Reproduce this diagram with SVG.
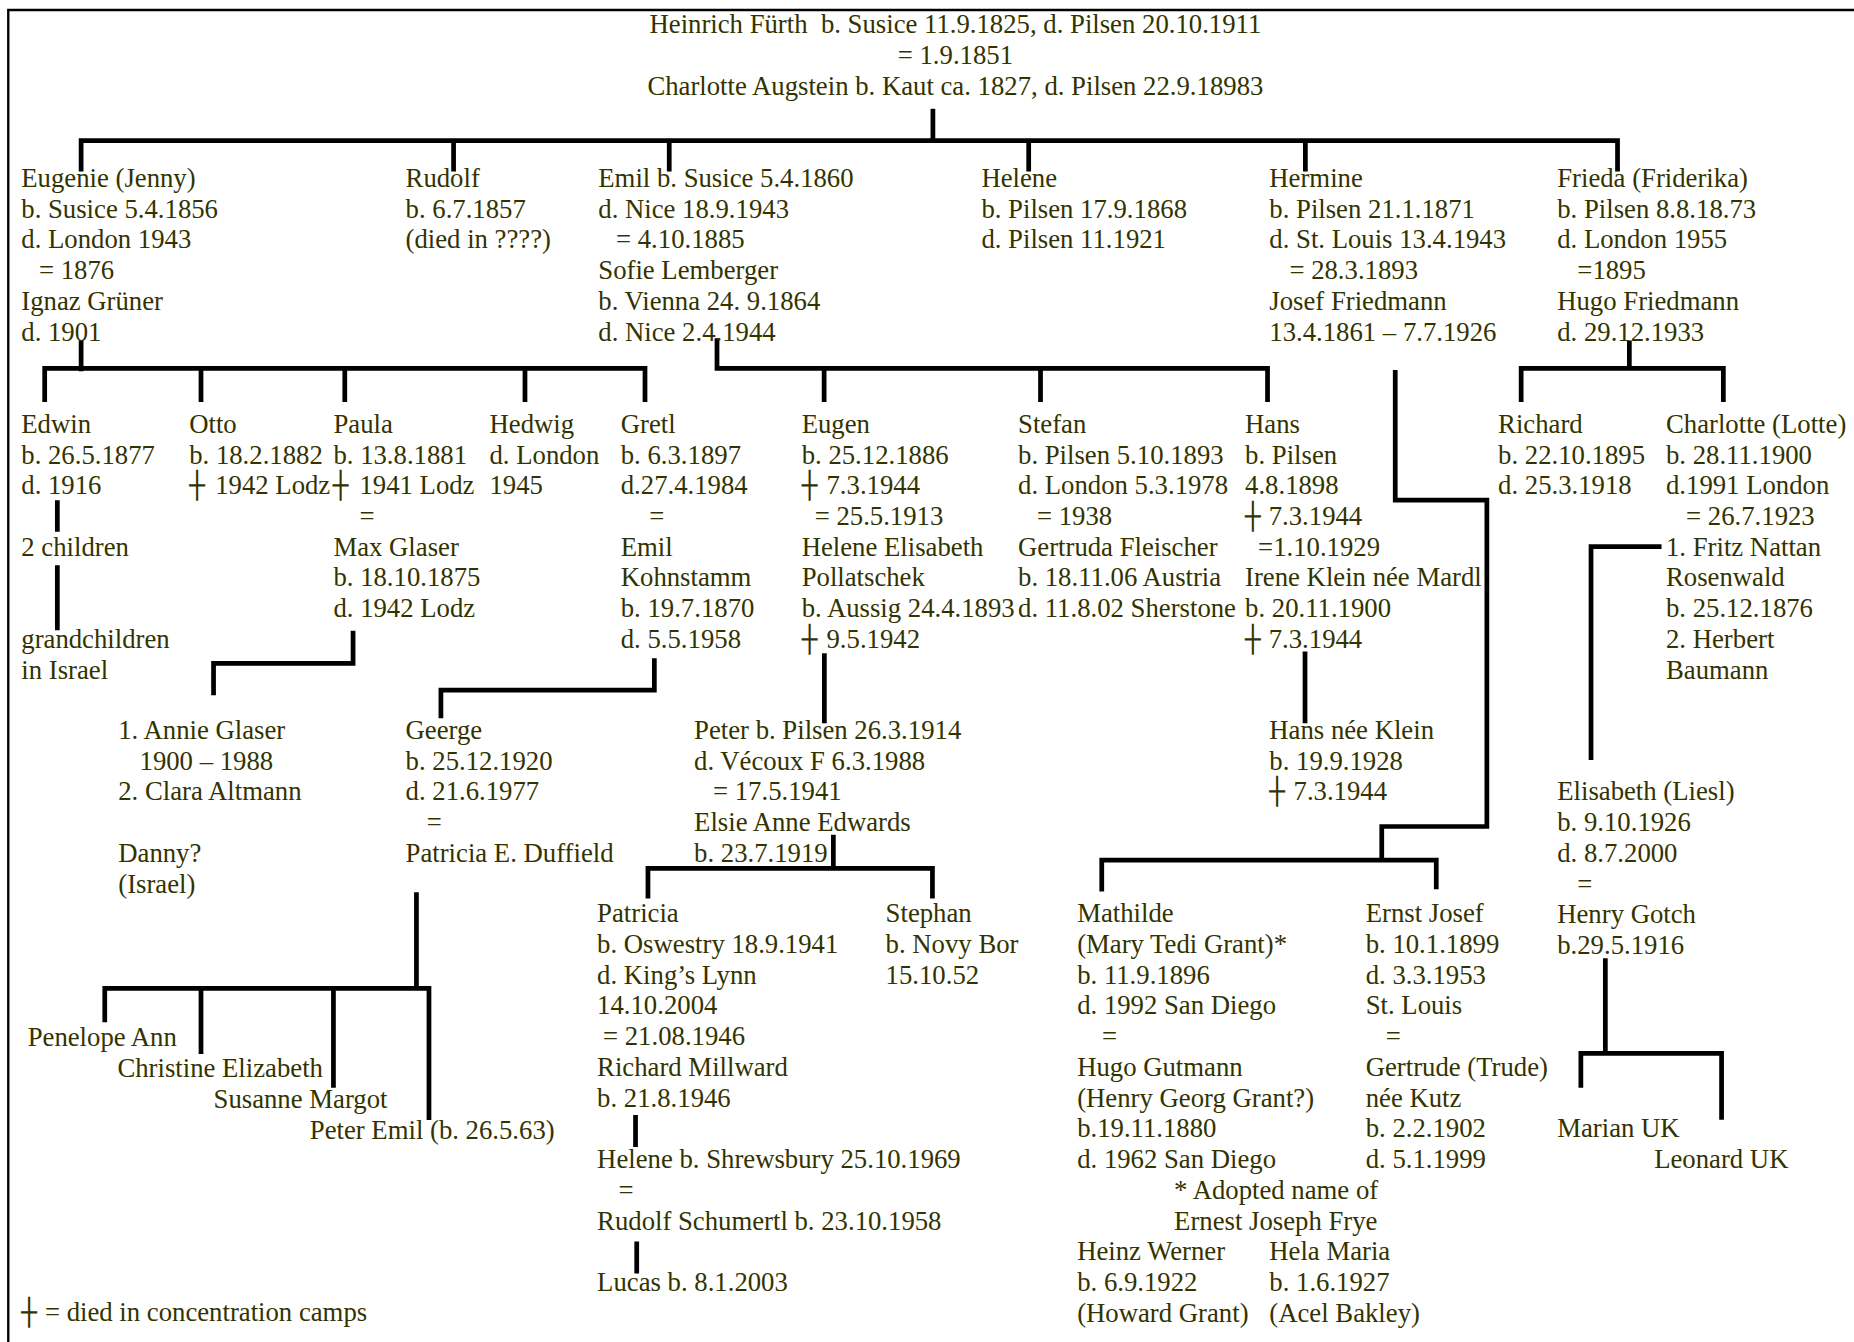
<svg xmlns="http://www.w3.org/2000/svg" width="1854" height="1342" viewBox="0 0 1854 1342">
<style>
.t{font-family:"Liberation Serif","Times New Roman",serif;font-size:22.6px;fill:#333300;}
.cr{font-family:"DejaVu Sans",sans-serif;font-size:22px;}
.c{stroke:#000;stroke-width:4;fill:none;stroke-linejoin:miter;}
.f{stroke:#000;stroke-width:2;fill:none;}
</style>
<rect width="1854" height="1342" fill="#fff"/>
<g transform="scale(1.1824)">
<path class="f" d="M7,1135 V8.5 H1568"/>
<g id="connectors">
<path class="c" d="M789,92 V119"/>
<path class="c" d="M68.6,145 V119 H1368 V145"/>
<path class="c" d="M383.6,119 V145 M566,119 V145 M870,119 V145 M1104,119 V145"/>
<path class="c" d="M68.6,288 V314"/>
<path class="c" d="M37.8,340 V311.5 H545.5 V340 M170,311.5 V340 M291.6,311.5 V340 M444,311.5 V340"/>
<path class="c" d="M606.4,286 V311.5 H1072 V340 M697,311.5 V340 M880,311.5 V340"/>
<path class="c" d="M1378,288 V311.5 M1286.5,340 V311.5 H1457.5 V340"/>
<path class="c" d="M1180,313 V423 H1257.5 V699 H1168.6 V727.4"/>
<path class="c" d="M931.8,754 V727.4 H1214.7 V752"/>
<path class="c" d="M48.5,423 V449.7 M48.5,478 V533"/>
<path class="c" d="M298.6,533.4 V561 H180.6 V588"/>
<path class="c" d="M553.4,556.8 V583.6 H372.9 V607.5"/>
<path class="c" d="M697.2,552.5 V611.7"/>
<path class="c" d="M1103.7,551 V611.7"/>
<path class="c" d="M1405.2,462.3 H1345.6 V642.8"/>
<path class="c" d="M352.2,754.7 V836 M88.6,864.6 V836 H362.8 V947.2 M170,836 V891.4 M282,836 V920"/>
<path class="c" d="M704.8,706 V734.4 M548,760 V734.4 H788.6 V760"/>
<path class="c" d="M537.5,943 V970 M538.5,1050 V1077"/>
<path class="c" d="M1357.7,810.5 V890.8 M1337,920 V890.8 H1456 V947"/>
</g>
<g id="n-heinrich">
<text class="t" text-anchor="middle" xml:space="preserve" x="808" y="28">Heinrich Fürth  b. Susice 11.9.1825, d. Pilsen 20.10.1911</text>
<text class="t" text-anchor="middle" x="808" y="54">= 1.9.1851</text>
<text class="t" text-anchor="middle" x="808" y="80">Charlotte Augstein b. Kaut ca. 1827, d. Pilsen 22.9.18983</text>
</g>
<g id="n-eugenie"><text class="t">
<tspan x="18" y="158">Eugenie (Jenny)</tspan><tspan x="18" y="184">b. Susice 5.4.1856</tspan><tspan x="18" y="210">d. London 1943</tspan><tspan x="33" y="236">= 1876</tspan><tspan x="18" y="262">Ignaz Grüner</tspan><tspan x="18" y="288">d. 1901</tspan>
</text></g>
<g id="n-rudolf"><text class="t">
<tspan x="343" y="158">Rudolf</tspan><tspan x="343" y="184">b. 6.7.1857</tspan><tspan x="343" y="210">(died in ????)</tspan>
</text></g>
<g id="n-emil"><text class="t">
<tspan x="506" y="158">Emil b. Susice 5.4.1860</tspan><tspan x="506" y="184">d. Nice 18.9.1943</tspan><tspan x="521" y="210">= 4.10.1885</tspan><tspan x="506" y="236">Sofie Lemberger</tspan><tspan x="506" y="262">b. Vienna 24. 9.1864</tspan><tspan x="506" y="288">d. Nice 2.4.1944</tspan>
</text></g>
<g id="n-helene"><text class="t">
<tspan x="830" y="158">Helene</tspan><tspan x="830" y="184">b. Pilsen 17.9.1868</tspan><tspan x="830" y="210">d. Pilsen 11.1921</tspan>
</text></g>
<g id="n-hermine"><text class="t">
<tspan x="1073.5" y="158">Hermine</tspan><tspan x="1073.5" y="184">b. Pilsen 21.1.1871</tspan><tspan x="1073.5" y="210">d. St. Louis 13.4.1943</tspan><tspan x="1090.5" y="236">= 28.3.1893</tspan><tspan x="1073.5" y="262">Josef Friedmann</tspan><tspan x="1073.5" y="288">13.4.1861 – 7.7.1926</tspan>
</text></g>
<g id="n-frieda"><text class="t">
<tspan x="1317" y="158">Frieda (Friderika)</tspan><tspan x="1317" y="184">b. Pilsen 8.8.18.73</tspan><tspan x="1317" y="210">d. London 1955</tspan><tspan x="1334" y="236">=1895</tspan><tspan x="1317" y="262">Hugo Friedmann</tspan><tspan x="1317" y="288">d. 29.12.1933</tspan>
</text></g>
<g id="n-edwin"><text class="t">
<tspan x="18" y="366">Edwin</tspan><tspan x="18" y="392">b. 26.5.1877</tspan><tspan x="18" y="418">d. 1916</tspan><tspan x="18" y="470">2 children</tspan><tspan x="18" y="548">grandchildren</tspan><tspan x="18" y="574">in Israel</tspan>
</text></g>
<g id="n-otto"><text class="t">
<tspan x="160" y="366">Otto</tspan><tspan x="160" y="392">b. 18.2.1882</tspan><tspan class="cr" x="160" y="418">┼</tspan><tspan x="182" y="418">1942 Lodz</tspan>
</text></g>
<g id="n-paula"><text class="t">
<tspan x="282" y="366">Paula</tspan><tspan x="282" y="392">b. 13.8.1881</tspan><tspan class="cr" x="281.5" y="418">┼</tspan><tspan x="304" y="418">1941 Lodz</tspan><tspan x="304" y="444">=</tspan><tspan x="282" y="470">Max Glaser</tspan><tspan x="282" y="496">b. 18.10.1875</tspan><tspan x="282" y="522">d. 1942 Lodz</tspan>
</text></g>
<g id="n-hedwig"><text class="t">
<tspan x="414" y="366">Hedwig</tspan><tspan x="414" y="392">d. London</tspan><tspan x="414" y="418">1945</tspan>
</text></g>
<g id="n-gretl"><text class="t">
<tspan x="525" y="366">Gretl</tspan><tspan x="525" y="392">b. 6.3.1897</tspan><tspan x="525" y="418">d.27.4.1984</tspan><tspan x="549" y="444">=</tspan><tspan x="525" y="470">Emil</tspan><tspan x="525" y="496">Kohnstamm</tspan><tspan x="525" y="522">b. 19.7.1870</tspan><tspan x="525" y="548">d. 5.5.1958</tspan>
</text></g>
<g id="n-eugen"><text class="t">
<tspan x="678" y="366">Eugen</tspan><tspan x="678" y="392">b. 25.12.1886</tspan><tspan class="cr" x="678" y="418">┼</tspan><tspan x="699" y="418">7.3.1944</tspan><tspan x="689" y="444">= 25.5.1913</tspan><tspan x="678" y="470">Helene Elisabeth</tspan><tspan x="678" y="496">Pollatschek</tspan><tspan x="678" y="522">b. Aussig 24.4.1893</tspan><tspan class="cr" x="678" y="548">┼</tspan><tspan x="699" y="548">9.5.1942</tspan>
</text></g>
<g id="n-stefan"><text class="t">
<tspan x="861" y="366">Stefan</tspan><tspan x="861" y="392">b. Pilsen 5.10.1893</tspan><tspan x="861" y="418">d. London 5.3.1978</tspan><tspan x="877" y="444">= 1938</tspan><tspan x="861" y="470">Gertruda Fleischer</tspan><tspan x="861" y="496">b. 18.11.06 Austria</tspan><tspan x="861" y="522">d. 11.8.02 Sherstone</tspan>
</text></g>
<g id="n-hans"><text class="t">
<tspan x="1053" y="366">Hans</tspan><tspan x="1053" y="392">b. Pilsen</tspan><tspan x="1053" y="418">4.8.1898</tspan><tspan class="cr" x="1053" y="444">┼</tspan><tspan x="1073" y="444">7.3.1944</tspan><tspan x="1064" y="470">=1.10.1929</tspan><tspan x="1053" y="496">Irene Klein née Mardl</tspan><tspan x="1053" y="522">b. 20.11.1900</tspan><tspan class="cr" x="1053" y="548">┼</tspan><tspan x="1073" y="548">7.3.1944</tspan>
</text></g>
<g id="n-richard"><text class="t">
<tspan x="1267" y="366">Richard</tspan><tspan x="1267" y="392">b. 22.10.1895</tspan><tspan x="1267" y="418">d. 25.3.1918</tspan>
</text></g>
<g id="n-lotte"><text class="t">
<tspan x="1409" y="366">Charlotte (Lotte)</tspan><tspan x="1409" y="392">b. 28.11.1900</tspan><tspan x="1409" y="418">d.1991 London</tspan><tspan x="1426" y="444">= 26.7.1923</tspan><tspan x="1409" y="470">1. Fritz Nattan</tspan><tspan x="1409" y="496">Rosenwald</tspan><tspan x="1409" y="522">b. 25.12.1876</tspan><tspan x="1409" y="548">2. Herbert</tspan><tspan x="1409" y="574">Baumann</tspan>
</text></g>
<g id="n-annie"><text class="t">
<tspan x="100" y="625">1. Annie Glaser</tspan><tspan x="118" y="651">1900 – 1988</tspan><tspan x="100" y="677">2. Clara Altmann</tspan><tspan x="100" y="729">Danny?</tspan><tspan x="100" y="755">(Israel)</tspan>
</text></g>
<g id="n-geerge"><text class="t">
<tspan x="343" y="625">Geerge</tspan><tspan x="343" y="651">b. 25.12.1920</tspan><tspan x="343" y="677">d. 21.6.1977</tspan><tspan x="361" y="703">=</tspan><tspan x="343" y="729">Patricia E. Duffield</tspan>
</text></g>
<g id="n-peter"><text class="t">
<tspan x="587" y="625">Peter b. Pilsen 26.3.1914</tspan><tspan x="587" y="651">d. Vécoux F 6.3.1988</tspan><tspan x="603" y="677">= 17.5.1941</tspan><tspan x="587" y="703">Elsie Anne Edwards</tspan><tspan x="587" y="729">b. 23.7.1919</tspan>
</text></g>
<g id="n-hansklein"><text class="t">
<tspan x="1073.5" y="625">Hans née Klein</tspan><tspan x="1073.5" y="651">b. 19.9.1928</tspan><tspan class="cr" x="1073.5" y="677">┼</tspan><tspan x="1094" y="677">7.3.1944</tspan>
</text></g>
<g id="n-liesl"><text class="t">
<tspan x="1317" y="677">Elisabeth (Liesl)</tspan><tspan x="1317" y="703">b. 9.10.1926</tspan><tspan x="1317" y="729">d. 8.7.2000</tspan><tspan x="1334" y="755">=</tspan><tspan x="1317" y="781">Henry Gotch</tspan><tspan x="1317" y="807">b.29.5.1916</tspan>
</text></g>
<g id="n-patricia"><text class="t">
<tspan x="505" y="780">Patricia</tspan><tspan x="505" y="806">b. Oswestry 18.9.1941</tspan><tspan x="505" y="832">d. King’s Lynn</tspan><tspan x="505" y="858">14.10.2004</tspan><tspan x="510" y="884">= 21.08.1946</tspan><tspan x="505" y="910">Richard Millward</tspan><tspan x="505" y="936">b. 21.8.1946</tspan>
</text></g>
<g id="n-helene2"><text class="t">
<tspan x="505" y="988">Helene b. Shrewsbury 25.10.1969</tspan><tspan x="523" y="1014">=</tspan><tspan x="505" y="1040">Rudolf Schumertl b. 23.10.1958</tspan>
</text></g>
<g id="n-lucas"><text class="t" x="505" y="1092">Lucas b. 8.1.2003</text></g>
<g id="n-stephan"><text class="t">
<tspan x="749" y="780">Stephan</tspan><tspan x="749" y="806">b. Novy Bor</tspan><tspan x="749" y="832">15.10.52</tspan>
</text></g>
<g id="n-mathilde"><text class="t">
<tspan x="911" y="780">Mathilde</tspan><tspan x="911" y="806">(Mary Tedi Grant)*</tspan><tspan x="911" y="832">b. 11.9.1896</tspan><tspan x="911" y="858">d. 1992 San Diego</tspan><tspan x="932" y="884">=</tspan><tspan x="911" y="910">Hugo Gutmann</tspan><tspan x="911" y="936">(Henry Georg Grant?)</tspan><tspan x="911" y="962">b.19.11.1880</tspan><tspan x="911" y="988">d. 1962 San Diego</tspan><tspan x="993" y="1014">* Adopted name of</tspan><tspan x="993" y="1040">Ernest Joseph Frye</tspan>
</text></g>
<g id="n-heinz"><text class="t">
<tspan x="911" y="1066">Heinz Werner</tspan><tspan x="911" y="1092">b. 6.9.1922</tspan><tspan x="911" y="1118">(Howard Grant)</tspan>
</text></g>
<g id="n-hela"><text class="t">
<tspan x="1073.5" y="1066">Hela Maria</tspan><tspan x="1073.5" y="1092">b. 1.6.1927</tspan><tspan x="1073.5" y="1118">(Acel Bakley)</tspan>
</text></g>
<g id="n-ernst"><text class="t">
<tspan x="1155" y="780">Ernst Josef</tspan><tspan x="1155" y="806">b. 10.1.1899</tspan><tspan x="1155" y="832">d. 3.3.1953</tspan><tspan x="1155" y="858">St. Louis</tspan><tspan x="1172" y="884">=</tspan><tspan x="1155" y="910">Gertrude (Trude)</tspan><tspan x="1155" y="936">née Kutz</tspan><tspan x="1155" y="962">b. 2.2.1902</tspan><tspan x="1155" y="988">d. 5.1.1999</tspan>
</text></g>
<g id="n-marian"><text class="t" x="1317" y="962">Marian UK</text></g>
<g id="n-leonard"><text class="t" x="1399" y="988">Leonard UK</text></g>
<g id="n-penelope"><text class="t" x="23.4" y="885">Penelope Ann</text></g>
<g id="n-christine"><text class="t" x="99.3" y="911">Christine Elizabeth</text></g>
<g id="n-susanne"><text class="t" x="180.6" y="937">Susanne Margot</text></g>
<g id="n-peteremil"><text class="t" x="262" y="963">Peter Emil (b. 26.5.63)</text></g>
<g id="legend"><text class="t"><tspan class="cr" x="18" y="1117">┼</tspan><tspan x="38" y="1117">= died in concentration camps</tspan></text></g>
</g>
</svg>
